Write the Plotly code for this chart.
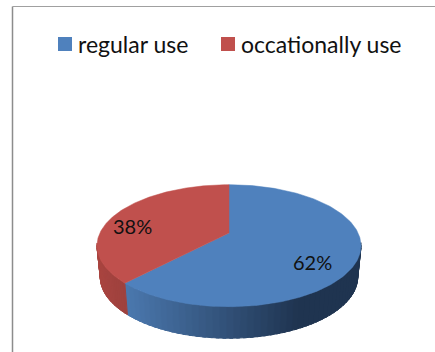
import math
import plotly.graph_objects as go

categories = ["regular use", "occationally use"]
values = [62, 38]
top_colors = ["#4f81bd", "#c0504d"]

W, H = 435, 352
CX, CY, RX, RY = 229.0, 245.7, 132.0, 61.0
DEPTH = 31.5
BOTTOM_SCALE = 0.975  # lower rim recedes slightly in perspective
A = -0.208   # perspective shift of the pie centre


def project(theta):
    """Angle (clockwise from 12 o'clock, radians) to the tilted-disc rim."""
    x, y = math.sin(theta), -math.cos(theta)
    d = 1 + A * y
    return CX + RX * x * math.sqrt(1 - A * A) / d, CY + RY * (y + A) / d


def lower(p):
    return CX + (p[0] - CX) * BOTTOM_SCALE, p[1] + DEPTH


def mix(c1, c2, t):
    a = [int(c1[i:i + 2], 16) for i in (1, 3, 5)]
    b = [int(c2[i:i + 2], 16) for i in (1, 3, 5)]
    return "#%02x%02x%02x" % tuple(round(p + (q - p) * t) for p, q in zip(a, b))


fig = go.Figure()
apex = (CX, CY + RY * A)
total = sum(values)
fractions = [v / total for v in values]

# side wall first, then top faces
start = 0.0
for i, f in enumerate(fractions):
    a0, a1 = start, start + f * 2 * math.pi
    n = 90
    for k in range(n):
        t0 = a0 + (a1 - a0) * k / n
        t1 = min(a0 + (a1 - a0) * (k + 1.5) / n, a1)
        p0, p1 = project(t0), project(t1)
        xm = (p0[0] + p1[0]) / 2
        ym = (p0[1] + p1[1]) / 2
        if ym < CY - 3:
            continue
        if i == 0:
            u = min(1, max(0, (xm - 127) / 170))
            col = mix("#4a77ad", "#1f3450", u)
        else:
            u = min(1, max(0, (xm - 97) / 30))
            col = mix("#a9443f", "#9c413e", u)
        q0, q1 = lower(p0), lower(p1)
        fig.add_trace(go.Scatter(
            x=[p0[0], p1[0], q1[0], q0[0], p0[0]],
            y=[p0[1], p1[1], q1[1], q0[1], p0[1]],
            mode="lines", fill="toself", fillcolor=col,
            line=dict(width=1, color=col), hoverinfo="skip", showlegend=False))
    start = a1

start = 0.0
for i, f in enumerate(fractions):
    a0, a1 = start, start + f * 2 * math.pi
    n = 200
    pts = [project(a0 + (a1 - a0) * k / n) for k in range(n + 1)]
    xs = [apex[0]] + [p[0] for p in pts] + [apex[0]]
    ys = [apex[1]] + [p[1] for p in pts] + [apex[1]]
    fig.add_trace(go.Scatter(x=xs, y=ys, mode="lines", fill="toself",
                             fillcolor=top_colors[i], line=dict(width=0.5, color=top_colors[i]),
                             name=categories[i], hoverinfo="name", showlegend=False))
    start = a1

# chart frame
fig.add_shape(type="line", x0=12.5, x1=12.5, y0=6.5, y1=352, line=dict(color="#8c8c8c", width=1.5))
fig.add_shape(type="line", x0=12.5, x1=435, y0=6.5, y1=6.5, line=dict(color="#a0a0a0", width=1))

# legend
legend_marker_x = [65, 228]
legend_text_x = [78, 241]
for i, c in enumerate(categories):
    fig.add_trace(go.Scatter(x=[legend_marker_x[i]], y=[44], mode="markers",
                             marker=dict(symbol="square", size=14, color=top_colors[i]),
                             hoverinfo="skip", showlegend=False))
    fig.add_annotation(x=legend_text_x[i], y=43.5, text=c, showarrow=False, xanchor="left",
                       yanchor="middle", xshift=-2,
                       font=dict(family="Lato, Carlito, Calibri", size=23, color="#111111"))

# data labels
label_pos = [(312, 262), (132, 226)]
for v, (lx, ly) in zip(values, label_pos):
    fig.add_annotation(x=lx, y=ly, text=f"{v}%", showarrow=False,
                       font=dict(family="Lato, Carlito, Calibri", size=20, color="#111111"))

fig.update_xaxes(range=[0, W], visible=False, fixedrange=True)
fig.update_yaxes(range=[H, 0], visible=False, fixedrange=True)
fig.update_layout(width=W, height=H, margin=dict(l=0, r=0, t=0, b=0),
                  paper_bgcolor="white", plot_bgcolor="white", showlegend=False)
fig.write_html("out.html", config={"displayModeBar": False},
               post_script="document.body.style.margin='0';document.documentElement.style.overflow='hidden';")
